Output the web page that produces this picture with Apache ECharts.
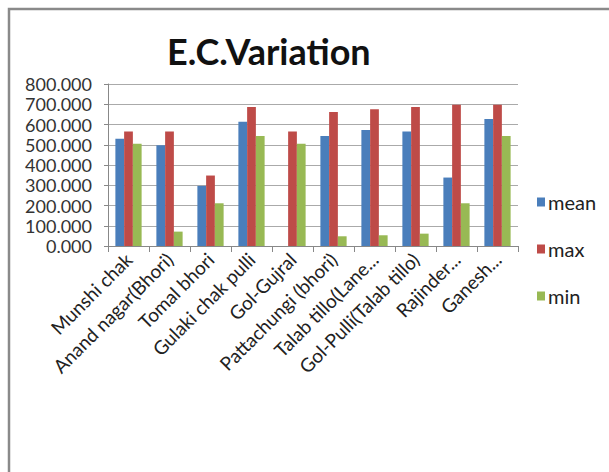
<!DOCTYPE html>
<html>
<head>
<meta charset="utf-8">
<script src="https://cdn.jsdelivr.net/npm/echarts@6/dist/echarts.min.js"></script>
<style>
  html, body { margin: 0; padding: 0; background: #fff; }
  #main { width: 609px; height: 472px; }
</style>
</head>
<body>
<div id="main"></div>
<script>
var categories = ['Munshi chak', 'Anand nagar(Bhori)', 'Tomal bhori', 'Gulaki chak pulli', 'Gol-Gujral',
  'Pattachungi (bhori)', 'Talab tillo(Lane...', 'Gol-Pulli(Talab tillo)', 'Rajinder...', 'Ganesh...'];
var meanVals = [530, 498, 297, 614, 0, 543, 573, 566, 338, 627];
var maxVals = [566, 566, 348, 686, 566, 662, 675, 686, 698, 698];
var minVals = [505, 71, 211, 543, 505, 48, 53, 61, 211, 543];
var yTicks = [0, 100, 200, 300, 400, 500, 600, 700, 800];

var font = 'Lato';
var chart = echarts.init(document.getElementById('main'), null, {renderer: 'svg'});

function bar(name, data, color) {
  return {
    name: name, type: 'bar', data: data,
    barGap: '0%', barCategoryGap: '36%',
    itemStyle: {color: color}
  };
}

chart.setOption({
  animation: false,
  title: {
    text: 'E.C.Variation',
    left: 162, top: 28,
    textStyle: {fontFamily: font, fontWeight: 'bold', fontSize: 36, color: '#111'}
  },
  legend: {
    orient: 'vertical',
    left: 532, top: 187,
    itemWidth: 8, itemHeight: 9, itemGap: 27,
    icon: 'rect',
    textStyle: {fontFamily: font, fontSize: 20, color: '#222', padding: [0, 0, 0, -2]},
    data: ['mean', 'max', 'min']
  },
  grid: {left: 108, right: 91, top: 84, bottom: 226, containLabel: false},
  xAxis: {
    type: 'category',
    data: categories,
    axisLine: {lineStyle: {color: '#888', width: 1}},
    axisTick: {show: true, alignWithLabel: false, length: 6, lineStyle: {color: '#888'}},
    axisLabel: {rotate: 45, interval: 0, margin: 10, fontFamily: font, fontSize: 19, color: '#222'}
  },
  yAxis: {
    type: 'value',
    min: yTicks[0], max: yTicks[yTicks.length - 1], interval: 100,
    axisLine: {show: true, lineStyle: {color: '#888'}},
    axisTick: {show: true, length: 4, lineStyle: {color: '#888'}},
    splitLine: {lineStyle: {color: '#aaa'}},
    axisLabel: {
      margin: 16, fontFamily: font, fontSize: 18, lineHeight: 17, color: '#333',
      formatter: function (v) { return v.toFixed(3); }
    }
  },
  graphic: [{
    type: 'rect',
    shape: {x: 9, y: 9, width: 700, height: 600},
    style: {fill: 'none', stroke: '#8a8a8a', lineWidth: 2.5},
    silent: true
  }],
  series: [
    bar('mean', meanVals, '#4a7ebb'),
    bar('max', maxVals, '#be4b48'),
    bar('min', minVals, '#98b954')
  ]
});
</script>
</body>
</html>
